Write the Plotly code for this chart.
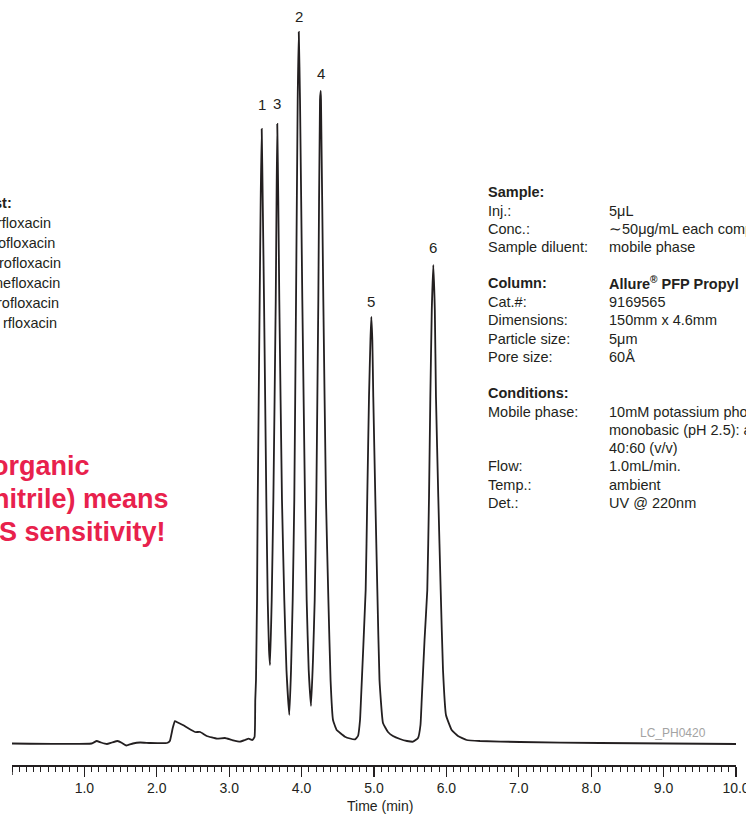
import plotly.graph_objects as go

# ---- Data (time in min, detector signal in arbitrary units) ----
time_min = [
    0.00, 1.10, 1.17, 1.23, 1.31, 1.38, 1.46, 1.52, 1.58, 1.67, 1.77, 1.91, 2.14,
    2.18, 2.22, 2.25, 2.29, 2.36, 2.44, 2.53, 2.60, 2.69, 2.83, 2.94, 3.04, 3.15,
    3.22, 3.27, 3.32, 3.35,
    3.36, 3.37, 3.384, 3.394, 3.421, 3.435, 3.449,
    3.463, 3.481, 3.513, 3.532, 3.550, 3.564,
    3.587, 3.610, 3.643, 3.654, 3.664,
    3.678, 3.692, 3.729, 3.761, 3.791, 3.830,
    3.854, 3.877, 3.899, 3.923, 3.946, 3.961,
    3.978, 4.010, 4.047, 4.070, 4.098, 4.130,
    4.157, 4.181, 4.203, 4.231, 4.254, 4.264,
    4.268, 4.300, 4.337, 4.370, 4.400, 4.434, 4.485, 4.599, 4.669, 4.738, 4.779, 4.807,
    4.820, 4.885, 4.907, 4.931, 4.951, 4.963,
    4.977, 4.990, 5.018, 5.046, 5.076, 5.124, 5.193, 5.262, 5.359, 5.456, 5.539,
    5.608, 5.642, 5.659,
    5.698, 5.736, 5.760, 5.778, 5.798, 5.819,
    5.840, 5.856, 5.888, 5.921, 5.953, 5.994, 6.073, 6.160, 6.280, 6.464, 7.017,
    8.122, 10.00,
]
signal = [
    0.5, 0.5, 3.0, 1.5, 0.0, 1.5, 3.0, 1.0, -1.5, 0.5, 1.5, 1.0, 1.0,
    3.0, 16.0, 23.0, 21.5, 19.0, 15.5, 12.0, 12.0, 8.0, 5.3, 6.0, 4.0, 2.3,
    4.0, 5.3, 4.0, 7.0,
    44, 64, 144, 244, 444, 544, 615,
    544, 444, 244, 144, 94, 79,
    144, 244, 444, 544, 620,
    544, 444, 244, 144, 74, 29,
    74, 144, 244, 444, 644, 712,
    644, 444, 244, 144, 74, 38,
    84, 144, 244, 444, 644, 653,
    644, 444, 244, 144, 64, 24, 14, 7.3, 5.5, 4.7, 8, 24,
    44, 154, 247, 347, 404, 427,
    404, 347, 247, 154, 64, 21, 12, 8, 5, 3, 2.3,
    6, 19, 44,
    104, 154, 247, 347, 434, 479,
    434, 347, 247, 154, 74, 29, 14, 8, 4, 3, 2,
    1, 0,
]

peak_labels = ["1", "3", "2", "4", "5", "6"]
peak_times = [3.449, 3.664, 3.961, 4.264, 4.963, 5.819]
peak_heights = [615, 620, 712, 653, 427, 479]

tick_values = [1, 2, 3, 4, 5, 6, 7, 8, 9, 10]
tick_labels = ["1.0", "2.0", "3.0", "4.0", "5.0", "6.0", "7.0", "8.0", "9.0", "10.0"]

peak_list = ["rfloxacin", "ofloxacin", "rofloxacin", "nefloxacin", "rofloxacin", "rfloxacin"]
callout_lines = ["organic", "nitrile) means", "S sensitivity!"]

info_rows = [
    ("<b>Sample:</b>", ""),
    ("Inj.:", "5μL"),
    ("Conc.:", "∼50μg/mL each compound"),
    ("Sample diluent:", "mobile phase"),
    ("<b>Column:</b>", "<b>Allure<sup>®</sup> PFP Propyl</b>"),
    ("Cat.#:", "9169565"),
    ("Dimensions:", "150mm x 4.6mm"),
    ("Particle size:", "5μm"),
    ("Pore size:", "60Å"),
    ("<b>Conditions:</b>", ""),
    ("Mobile phase:", "10mM potassium phosphate"),
    ("", "monobasic (pH 2.5): acetonitrile"),
    ("", "40:60 (v/v)"),
    ("Flow:", "1.0mL/min."),
    ("Temp.:", "ambient"),
    ("Det.:", "UV @ 220nm"),
]

# ---- Layout geometry (pixels of the 746x816 page) ----
W, H = 746, 816
ML, MR, MT, MB = 12, 10, 0, 51
PW = W - ML - MR
PH = H - MT - MB


def PX(x):
    return (x - ML) / PW


def PY(y):
    return (MT + PH - y) / PH


INK = "#231f20"
SANS = "Liberation Sans, Arial, sans-serif"
TXT = 14.5

fig = go.Figure()
fig.add_trace(go.Scatter(
    x=time_min, y=signal, mode="lines",
    line=dict(color=INK, width=1.8, shape="spline", smoothing=0.35),
    hoverinfo="skip", showlegend=False,
))

annotations = []
label_gaps = [17, 13, 8, 10, 8, 10]
for lab, t, h, g in zip(peak_labels, peak_times, peak_heights, label_gaps):
    annotations.append(dict(
        x=t, y=h, xref="x", yref="y", text=lab, showarrow=False,
        yanchor="bottom", yshift=g - 3,
        font=dict(family=SANS, size=15, color=INK),
    ))

# left peak list (cropped at the page edge)
annotations.append(dict(x=PX(14), y=PY(203), xref="paper", yref="paper", text="<b>st:</b>",
                        showarrow=False, xanchor="right", yanchor="middle",
                        font=dict(family=SANS, size=TXT, color=INK)))
for txt, xr, yc in zip(peak_list, [53, 57, 63, 62, 61, 59], [223, 243, 263, 283, 303, 323]):
    annotations.append(dict(x=PX(xr), y=PY(yc), xref="paper", yref="paper", text=txt,
                            showarrow=False, xanchor="right", yanchor="middle",
                            font=dict(family=SANS, size=TXT, color=INK)))

# red call-out
for txt, xr, yc in zip(callout_lines, [92, 171, 168], [466, 499, 532]):
    annotations.append(dict(x=PX(xr), y=PY(yc), xref="paper", yref="paper", text="<b>" + txt + "</b>",
                            showarrow=False, xanchor="right", yanchor="middle",
                            font=dict(family=SANS, size=27, color="#e8214c")))

# right info block
row_y = [192, 211, 229, 247, 283, 302, 320, 339, 357, 393, 412, 430, 448, 466, 485, 503]
for (lab, val), yc in zip(info_rows, row_y):
    if lab:
        annotations.append(dict(x=PX(486), y=PY(yc), xref="paper", yref="paper", text=lab,
                                showarrow=False, xanchor="left", yanchor="middle",
                                font=dict(family=SANS, size=TXT, color=INK)))
    if val:
        annotations.append(dict(x=PX(607), y=PY(yc), xref="paper", yref="paper", text=val,
                                showarrow=False, xanchor="left", yanchor="middle",
                                font=dict(family=SANS, size=TXT, color=INK)))

annotations.append(dict(x=PX(708), y=PY(733), xref="paper", yref="paper", text="LC_PH0420",
                        showarrow=False, xanchor="right", yanchor="middle",
                        font=dict(family=SANS, size=12, color="#a3a3a3")))

# axis title
annotations.append(dict(x=PX(380), y=PY(806), xref="paper", yref="paper", text="Time (min)",
                        showarrow=False, xanchor="center", yanchor="middle",
                        font=dict(family=SANS, size=14, color=INK)))

# long tick at the origin of the time ruler
shapes = [dict(type="line", xref="x", yref="paper", x0=0, x1=0, y0=0, y1=-10 / PH,
               line=dict(color=INK, width=1.5))]

fig.update_layout(
    width=W, height=H,
    margin=dict(l=ML, r=MR, t=MT, b=MB, pad=0),
    paper_bgcolor="white", plot_bgcolor="white",
    showlegend=False,
    annotations=annotations,
    shapes=shapes,
    xaxis=dict(
        range=[0, 10], showgrid=False, zeroline=False,
        showline=True, linecolor=INK, linewidth=1.5,
        ticks="outside", ticklen=10, tickwidth=1.3, tickcolor=INK,
        tickmode="array", tickvals=tick_values, ticktext=tick_labels,
        ticklabeloverflow="allow",
        tickfont=dict(family=SANS, size=14, color=INK),
        minor=dict(dtick=0.1, ticks="outside", ticklen=5, tickwidth=1, tickcolor=INK, showgrid=False),
        automargin=False, fixedrange=True,
    ),
    yaxis=dict(range=[-21, 744], visible=False, automargin=False, fixedrange=True),
)

fig.write_html(
    "out.html",
    config={"displayModeBar": False, "staticPlot": True},
    post_script="document.body.style.margin='0';document.body.style.overflow='hidden';",
)
